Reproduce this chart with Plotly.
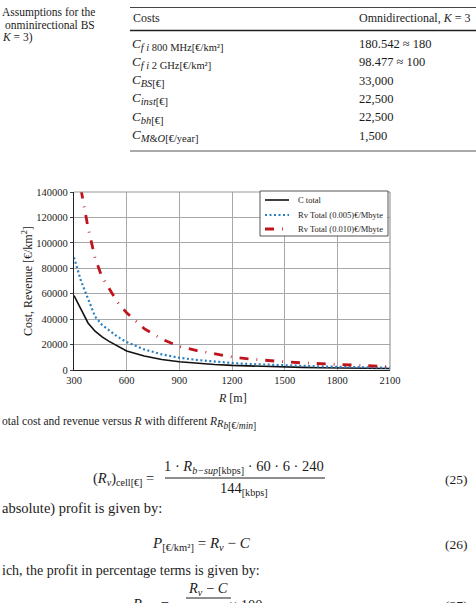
import plotly.graph_objects as go

# ---------------- data ----------------
R_m = [300, 340, 380, 420, 460, 500, 550, 600, 700, 800, 900, 1000, 1100,
       1200, 1300, 1400, 1500, 1600, 1700, 1800, 1900, 2000, 2100]
C_total = [58500, 47500, 37000, 30500, 26000, 22500, 18500, 15000, 11000, 8300,
           6500, 5200, 4300, 3600, 3100, 2700, 2350, 2050, 1800, 1600, 1450, 1300, 1200]
Rv_005 = [88500, 70000, 56000, 42000, 35500, 31000, 26000, 22000, 16200, 12300,
          9600, 7900, 6500, 5500, 4700, 4100, 3600, 3150, 2800, 2500, 2250, 2000, 1850]
Rv_010 = [182000, 142000, 112000, 88000, 73000, 64000, 53000, 45000, 32500, 24300,
          18500, 15300, 12600, 10200, 8700, 7400, 6400, 5600, 4900, 4400, 3800, 3000, 2600]

series_names = ["C total", "Rv Total (0.005)€/Mbyte", "Rv Total (0.010)€/Mbyte"]
x_ticks = [300, 600, 900, 1200, 1500, 1800, 2100]
y_ticks = [0, 20000, 40000, 60000, 80000, 100000, 120000, 140000]

SUB = '<span style="font-size:10.5px">'
table_header = ["Costs", "Omnidirectional, <i>K</i> = 3"]
table_labels = [
    "<i>C</i><sub>" + SUB + "<i>f i</i> 800 MHz[€/km²]</span></sub>",
    "<i>C</i><sub>" + SUB + "<i>f i</i> 2 GHz[€/km²]</span></sub>",
    "<i>C</i><sub>" + SUB + "<i>BS</i>[€]</span></sub>",
    "<i>C</i><sub>" + SUB + "<i>inst</i>[€]</span></sub>",
    "<i>C</i><sub>" + SUB + "<i>bh</i>[€]</span></sub>",
    "<i>C</i><sub>" + SUB + "<i>M</i>&<i>O</i>[€/year]</span></sub>",
]
table_values = ["180.542 ≈ 180", "98.477 ≈ 100", "33,000", "22,500", "22,500", "1,500"]

# ---------------- layout helpers (pixel -> paper) ----------------
PL, PR, PT, PB = 74, 390, 192, 370
W, H = PR - PL, PB - PT


def px(x):
    return (x - PL) / W


def py(y):
    return (PB - y) / H


SERIF = "Liberation Serif"
TXT = "#1c1c1c"
COLORS = ["#111111", "#2a7fc0", "#c0141c"]
WIDTHS = [1.6, 2.2, 2.8]
DASHES = ["solid", "2px,2.5px", "9px,8px,0.8px,8px"]

fig = go.Figure()
for yv, nm, c, w, d in zip([C_total, Rv_005, Rv_010], series_names, COLORS, WIDTHS, DASHES):
    fig.add_trace(go.Scatter(x=R_m, y=yv, mode="lines", name=nm,
                             line=dict(color=c, width=w, dash=d)))

ann = []


def add_text(x, y, text, size, xanchor="left", yanchor="middle", angle=0):
    ann.append(dict(x=px(x), y=py(y), xref="paper", yref="paper", text=text,
                    showarrow=False, xanchor=xanchor, yanchor=yanchor, textangle=angle,
                    font=dict(family=SERIF, size=size, color=TXT)))


# table caption (visible part)
add_text(0, 12, "Assumptions for the", 11.5)
add_text(3, 25, "onminirectional BS", 11.5)
add_text(0, 37, "<i>K</i> = 3)", 11.5)

# table
add_text(131, 18, table_header[0], 12)
add_text(357, 18, table_header[1], 12)
row_y = [44, 62, 81, 99, 117, 136]
for lab, val, yy in zip(table_labels, table_values, row_y):
    add_text(130, yy, lab, 13)
    add_text(357, yy, val, 12.5)

# axis titles
add_text(27, 281, "Cost, Revenue [€/km<sup>2</sup>]", 12, xanchor="center", angle=-90)
add_text(232, 398, "<i>R</i> [m]", 12, xanchor="center")

# figure caption (visible part)
add_text(0, 423, "otal cost and revenue versus <i>R</i> with different "
         "<i>R</i><sub><span style=\"font-size:10.5px\"><i>R</i></span><sub>"
         "<span style=\"font-size:9.5px\"><i>b</i>[€/<i>min</i>]</span></sub></sub>",
         11.5)

# equation 25
add_text(156, 479, "(<i>R<sub>v</sub></i>)<sub>cell[€]</sub> =", 14.5, xanchor="right")
add_text(244, 467, "1 · <i>R</i><sub><i>b−sup</i>[kbps]</sub> · 60 · 6 · 240", 14.5, xanchor="center")
add_text(244, 489, "144<sub>[kbps]</sub>", 14.5, xanchor="center")
add_text(470, 479, "(25)", 13.5, xanchor="right")

add_text(0, 508, "absolute) profit is given by:", 14.5)

# equation 26
add_text(201, 544, "<i>P</i><sub>[€/km²]</sub> = <i>R<sub>v</sub></i> − <i>C</i>", 15, xanchor="center")
add_text(470, 544, "(26)", 13.5, xanchor="right")

add_text(0, 570, "ich, the profit in percentage terms is given by:", 14)

# equation 27 (cut at the bottom, as in the page)
add_text(208, 589, "<i>R<sub>v</sub></i> − <i>C</i>", 14.5, xanchor="center")
add_text(150, 605, "<i>P</i><sub>[%]</sub> =", 14.5, xanchor="center")
add_text(246, 605, "× 100", 14.5, xanchor="center")
add_text(470, 605, "(27)", 13.5, xanchor="right")

shapes = [
    # table rules
    dict(type="line", xref="paper", yref="paper", x0=px(130), x1=px(480), y0=py(7.5), y1=py(7.5),
         line=dict(color="#444", width=1)),
    dict(type="line", xref="paper", yref="paper", x0=px(130), x1=px(480), y0=py(30.5), y1=py(30.5),
         line=dict(color="#222", width=1.6)),
    dict(type="line", xref="paper", yref="paper", x0=px(130), x1=px(480), y0=py(151), y1=py(151),
         line=dict(color="#555", width=1)),
    # fraction bars
    dict(type="line", xref="paper", yref="paper", x0=px(165), x1=px(325), y0=py(478), y1=py(478),
         line=dict(color=TXT, width=1)),
    dict(type="line", xref="paper", yref="paper", x0=px(186), x1=px(231), y0=py(598), y1=py(598),
         line=dict(color=TXT, width=1)),
    # plot frame (top / right)
    dict(type="line", xref="paper", yref="paper", x0=0, x1=1, y0=1, y1=1,
         line=dict(color="#9a9a9a", width=1.2)),
    dict(type="line", xref="paper", yref="paper", x0=1, x1=1, y0=0, y1=1,
         line=dict(color="#9a9a9a", width=1.2)),
    # legend box
    dict(type="rect", xref="paper", yref="paper", x0=px(260), x1=px(388), y0=py(236), y1=py(191),
         line=dict(color="#555", width=1), fillcolor="white", layer="above"),
]

# legend entries (sample line + label)
leg_y = [200, 215, 229]
for nm, c, w, d, yy in zip(series_names, COLORS, WIDTHS, DASHES, leg_y):
    shapes.append(dict(type="line", xref="paper", yref="paper", x0=px(265), x1=px(289),
                       y0=py(yy), y1=py(yy), layer="above",
                       line=dict(color=c, width=w, dash=d)))
    add_text(296, yy, nm, 8.5)

fig.update_layout(
    width=476, height=603,
    margin=dict(l=PL, r=476 - PR, t=PT, b=603 - PB, pad=0),
    paper_bgcolor="white", plot_bgcolor="white",
    font=dict(family=SERIF, color=TXT),
    annotations=ann, shapes=shapes,
    showlegend=False,
)
fig.update_xaxes(range=[300, 2100], tickvals=x_ticks, ticktext=[str(v) for v in x_ticks],
                 showgrid=True, gridcolor="#a8a8a8", gridwidth=1,
                 showline=True, linecolor="#222", linewidth=1.2,
                 ticks="", tickfont=dict(family=SERIF, size=10.5, color=TXT),
                 zeroline=False)
fig.update_yaxes(range=[0, 140000], tickvals=y_ticks, ticktext=[str(v) for v in y_ticks],
                 showgrid=True, gridcolor="#a8a8a8", gridwidth=1,
                 showline=True, linecolor="#222", linewidth=1.2,
                 ticks="outside", ticklen=3, tickcolor="#444",
                 tickfont=dict(family=SERIF, size=10.5, color=TXT),
                 zeroline=False)

fig.write_html("out.html")
